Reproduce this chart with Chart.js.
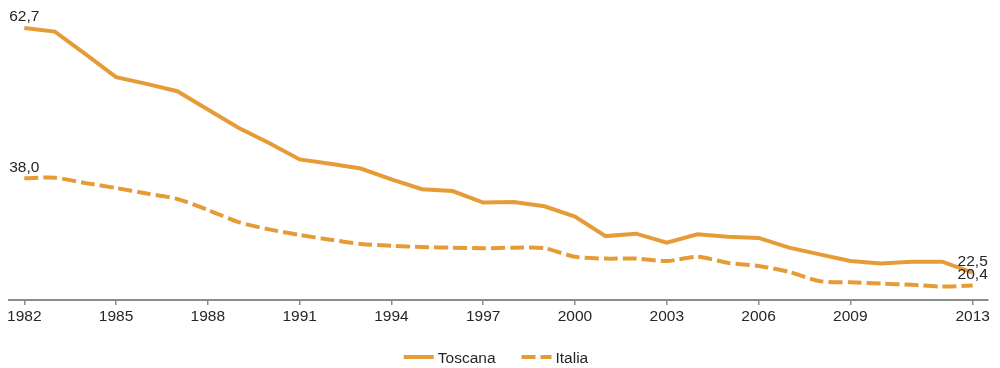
<!DOCTYPE html>
<html lang="it">
<head>
<meta charset="utf-8">
<title>Toscana e Italia 1982-2013</title>
<script src="https://cdn.jsdelivr.net/npm/chart.js@4/dist/chart.umd.min.js"></script>
<style>
  html, body { margin: 0; padding: 0; background: #ffffff; }
  #wrap { width: 1000px; height: 368px; }
</style>
</head>
<body>
<div id="wrap"><canvas id="chart" width="1000" height="368"></canvas></div>
<script>
// Anni sull'asse orizzontale
const years = ['1982','1983','1984','1985','1986','1987','1988','1989','1990','1991',
  '1992','1993','1994','1995','1996','1997','1998','1999','2000','2001',
  '2002','2003','2004','2005','2006','2007','2008','2009','2010','2011',
  '2012','2013'];

// Anni che ricevono un'etichetta sull'asse
const tickYears = ['1982','1985','1988','1991','1994','1997','2000','2003','2006','2009','2013'];

// Serie
const toscana = [62.7, 62.1, 58.4, 54.6, 53.5, 52.3, 49.3, 46.3, 43.8, 41.1,
  40.4, 39.6, 37.8, 36.2, 35.9, 34.0, 34.1, 33.4, 31.7, 28.5,
  28.9, 27.4, 28.8, 28.4, 28.2, 26.6, 25.5, 24.4, 24.0, 24.3,
  24.3, 22.5];

const italia = [38.0, 38.1, 37.2, 36.4, 35.5, 34.6, 32.8, 30.8, 29.6, 28.7,
  27.9, 27.2, 26.9, 26.7, 26.6, 26.5, 26.6, 26.5, 25.1, 24.8,
  24.8, 24.4, 25.1, 24.1, 23.6, 22.6, 21.1, 20.9, 20.7, 20.5,
  20.2, 20.4];

const seriesNames = ['Toscana', 'Italia'];

const ORANGE = '#E69C36';
const TEXT = '#262626';
const AXIS = '#8c8c8c';
const FONT = '"Liberation Sans", Arial, sans-serif';

const fmt = v => v.toFixed(1).replace('.', ',');

// Valori del primo e dell'ultimo anno scritti sopra ciascuna linea
const endLabels = {
  id: 'endLabels',
  afterDatasetsDraw(chart) {
    const ctx = chart.ctx;
    ctx.save();
    ctx.font = '15.5px ' + FONT;
    ctx.fillStyle = TEXT;
    ctx.textAlign = 'center';
    ctx.textBaseline = 'middle';
    chart.data.datasets.forEach((ds, i) => {
      const meta = chart.getDatasetMeta(i);
      const last = ds.data.length - 1;
      [0, last].forEach(idx => {
        const pt = meta.data[idx];
        ctx.fillText(fmt(ds.data[idx]), pt.x, pt.y - 11);
      });
    });
    ctx.restore();
  }
};

// Legenda in basso, centrata
const bottomLegend = {
  id: 'bottomLegend',
  afterDraw(chart) {
    const ctx = chart.ctx;
    ctx.save();
    ctx.font = '15.5px ' + FONT;
    const lineW = 30, textGap = 4, itemGap = 26;
    const items = chart.data.datasets.map(ds => ({
      label: ds.label, dash: ds.borderDash || [], w: ds.borderWidth,
      tw: ctx.measureText(ds.label).width
    }));
    let total = 0;
    items.forEach((it, i) => { total += lineW + textGap + it.tw + (i ? itemGap : 0); });
    let x = 496 - total / 2;
    const y = 357;
    items.forEach((it, i) => {
      if (i) x += itemGap;
      ctx.beginPath();
      ctx.setLineDash(it.dash);
      ctx.lineWidth = it.w;
      ctx.strokeStyle = ORANGE;
      ctx.moveTo(x, y);
      ctx.lineTo(x + lineW, y);
      ctx.stroke();
      ctx.setLineDash([]);
      x += lineW + textGap;
      ctx.fillStyle = TEXT;
      ctx.textAlign = 'left';
      ctx.textBaseline = 'middle';
      ctx.fillText(it.label, x, y + 1.5);
      x += it.tw;
    });
    ctx.restore();
  }
};

new Chart(document.getElementById('chart'), {
  type: 'line',
  data: {
    labels: years,
    datasets: [
      {
        label: seriesNames[0],
        data: toscana,
        borderColor: ORANGE,
        backgroundColor: ORANGE,
        borderWidth: 4,
        pointRadius: 0,
        tension: 0,
        fill: false
      },
      {
        label: seriesNames[1],
        data: italia,
        borderColor: ORANGE,
        backgroundColor: ORANGE,
        borderWidth: 4,
        borderDash: [14, 5],
        pointRadius: 0,
        tension: 0.25,
        fill: false
      }
    ]
  },
  options: {
    responsive: false,
    animation: false,
    devicePixelRatio: 1,
    layout: { padding: { top: 20, left: 9, right: 12, bottom: 0 } },
    plugins: {
      legend: { display: false },
      tooltip: { enabled: false },
      title: { display: false }
    },
    scales: {
      x: {
        type: 'category',
        offset: true,
        afterFit(scale) { scale.height = 68; },
        border: { display: true, color: AXIS, width: 2 },
        grid: {
          display: true,
          drawOnChartArea: false,
          drawTicks: true,
          tickLength: 5,
          lineWidth: 1.5,
          color: c => tickYears.includes(years[c.index]) ? AXIS : 'rgba(0,0,0,0)'
        },
        ticks: {
          autoSkip: false,
          maxRotation: 0,
          padding: 2,
          color: TEXT,
          font: { family: FONT, size: 15.5 },
          callback: (v, i) => tickYears.includes(years[i]) ? years[i] : ''
        }
      },
      y: {
        display: false,
        min: 18,
        max: 64
      }
    }
  },
  plugins: [endLabels, bottomLegend]
});
</script>
</body>
</html>
